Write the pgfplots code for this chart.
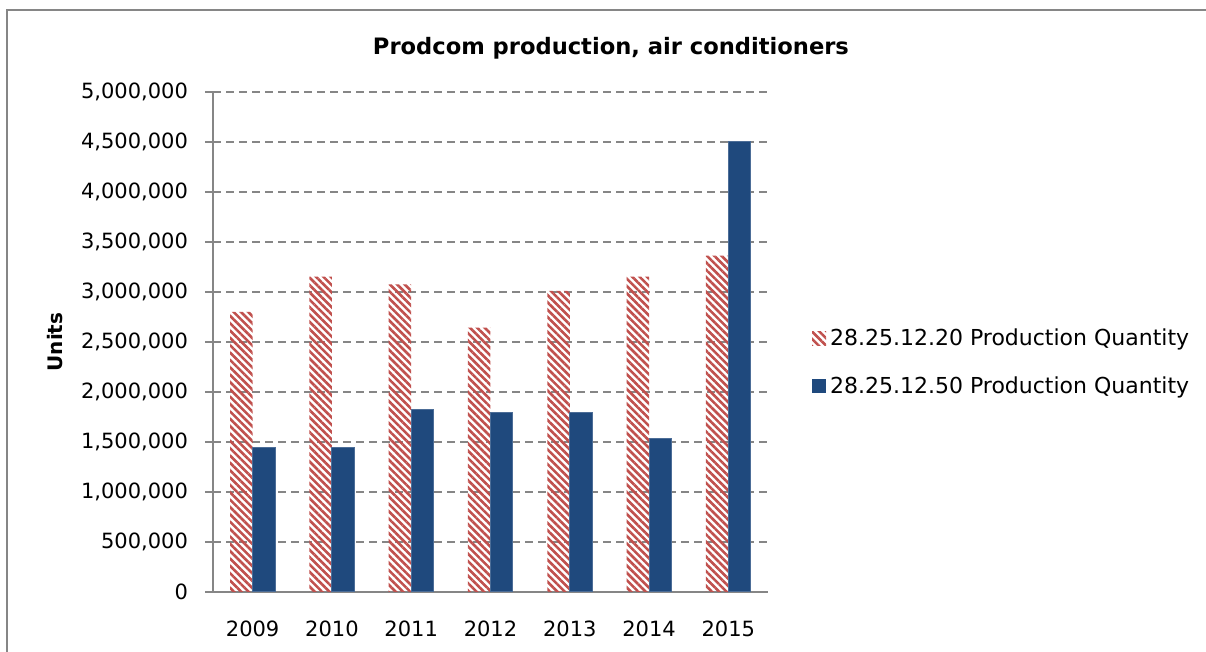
\documentclass[border=0pt]{standalone}
\usepackage{fontspec}
\setmainfont{DejaVu Sans}
\usepackage{pgfplots}
\pgfplotsset{compat=1.18}
\usetikzlibrary{patterns.meta}
\definecolor{redbar}{HTML}{C0504D}
\definecolor{bluebar}{HTML}{1F497D}
\definecolor{axgray}{HTML}{868686}
\begin{document}
\begin{tikzpicture}
\useasboundingbox (0,0) rectangle (603pt,326pt);
\draw[axgray, line width=0.8pt] (3.5pt,-10pt) -- (3.5pt,321pt) -- (610pt,321pt);
\begin{axis}[
  at={(106.5pt,30pt)}, anchor=south west,
  scale only axis, width=277.5pt, height=250pt,
  xmin=-0.5, xmax=6.5, ymin=0, ymax=5000000,
  ybar=0pt, bar width=11.25pt,
  xtick={0,1,2,3,4,5,6},
  xticklabels={2009,2010,2011,2012,2013,2014,2015},
  ytick={0,500000,1000000,1500000,2000000,2500000,3000000,3500000,4000000,4500000,5000000},
  scaled y ticks=false,
  /pgf/number format/assume math mode=true,
  yticklabel style={/pgf/number format/fixed, /pgf/number format/1000 sep={,}, font=\fontsize{10.5}{12}\selectfont, xshift=-5pt},
  xticklabel style={font=\fontsize{10.5}{12}\selectfont, yshift=-7pt},
  axis lines*=left,
  axis line style={axgray, line width=0.8pt},
  tick align=outside,
  ytick style={axgray, line width=0.8pt},
  major tick length=4pt,
  xtick style={draw=none},
  ymajorgrids,
  grid style={axgray, line width=0.8pt, dash pattern=on 4pt off 2.5pt},
  title={\bfseries Prodcom production, air conditioners},
  title style={at={(axis description cs:0.717,1.064)}, anchor=center, font=\fontsize{11.3}{13}\selectfont},
  ylabel={\bfseries Units},
  ylabel style={at={(axis description cs:-0.285,0.5)}, anchor=center, font=\fontsize{10}{12}\selectfont},
  legend image code/.code={\draw[#1,draw=none] (0pt,-3.5pt) rectangle (7pt,3.5pt);},
  legend style={at={(axis description cs:1.068,0.459)}, anchor=west, draw=none, fill=none,
    font=\fontsize{11}{13}\selectfont, row sep=10pt,
    /tikz/every even column/.append style={column sep=4pt}},
  legend cell align=left,
]
\addplot[draw=none, pattern={Lines[angle=135,distance=2.6pt,line width=1.3pt]}, pattern color=redbar]
  coordinates {(0,2800000) (1,3153000) (2,3077000) (3,2643000) (4,3010000) (5,3153000) (6,3363000)};
\addlegendentry{28.25.12.20 Production Quantity}
\addplot[fill=bluebar, draw=bluebar!80!white, line width=0.5pt]
  coordinates {(0,1443000) (1,1440000) (2,1823000) (3,1797000) (4,1797000) (5,1537000) (6,4505000)};
\addlegendentry{28.25.12.50 Production Quantity}
\end{axis}
\end{tikzpicture}
\end{document}
